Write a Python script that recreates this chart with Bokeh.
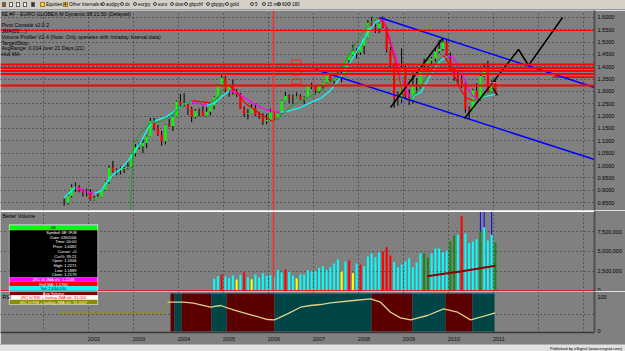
from bokeh.plotting import figure
from bokeh.models import (Range1d, FixedTicker, Grid, Span, Label, BoxAnnotation, Div,
                          ColumnDataSource, NumeralTickFormatter, CustomJSTickFormatter)
from bokeh.layouts import column
from bokeh.embed import file_html
from bokeh.resources import INLINE

# ------------------------------------------------------------------ data
CANDLE_START = (2001, 6)          # first monthly bar (June 2001)
OPEN = [0.850, 0.848, 0.876, 0.912, 0.914, 0.898, 0.891,
        0.890, 0.862, 0.867, 0.872, 0.901, 0.933, 0.991, 0.978, 0.981, 0.986, 0.989, 0.993,
        1.049, 1.074, 1.078, 1.091, 1.118, 1.180, 1.150, 1.124, 1.098, 1.165, 1.160, 1.199,
        1.259, 1.246, 1.248, 1.231, 1.197, 1.222, 1.219, 1.202, 1.218, 1.242, 1.277, 1.327,
        1.356, 1.304, 1.326, 1.297, 1.287, 1.230, 1.210, 1.212, 1.234, 1.205, 1.198, 1.179,
        1.184, 1.216, 1.192, 1.212, 1.262, 1.282, 1.278, 1.276, 1.280, 1.267, 1.275, 1.323,
        1.320, 1.302, 1.323, 1.336, 1.366, 1.345, 1.353, 1.369, 1.364, 1.427, 1.448, 1.465,
        1.459, 1.485, 1.518, 1.578, 1.561, 1.555, 1.576, 1.560, 1.468, 1.407, 1.273, 1.270,
        1.397, 1.280, 1.267, 1.324, 1.323, 1.415, 1.403, 1.425, 1.434, 1.463, 1.472, 1.500,
        1.433, 1.386, 1.363, 1.351, 1.330, 1.229, 1.223, 1.305, 1.267, 1.363, 1.393, 1.299,
        1.338]
HIGH = [0.866, 0.884, 0.924, 0.931, 0.921, 0.905, 0.906,
        0.904, 0.877, 0.886, 0.904, 0.938, 0.999, 1.019, 0.989, 0.995, 0.994, 1.014, 1.051,
        1.087, 1.094, 1.107, 1.122, 1.193, 1.193, 1.164, 1.140, 1.168, 1.189, 1.202, 1.264,
        1.290, 1.293, 1.249, 1.238, 1.229, 1.231, 1.240, 1.236, 1.243, 1.281, 1.330, 1.367,
        1.363, 1.327, 1.348, 1.310, 1.294, 1.240, 1.229, 1.249, 1.250, 1.218, 1.212, 1.209,
        1.230, 1.217, 1.217, 1.265, 1.298, 1.289, 1.288, 1.296, 1.290, 1.280, 1.326, 1.336,
        1.322, 1.326, 1.339, 1.368, 1.368, 1.355, 1.385, 1.380, 1.428, 1.450, 1.490, 1.475,
        1.489, 1.522, 1.590, 1.602, 1.576, 1.580, 1.604, 1.563, 1.480, 1.414, 1.299, 1.475,
        1.405, 1.309, 1.377, 1.355, 1.416, 1.434, 1.428, 1.440, 1.478, 1.508, 1.514, 1.512,
        1.458, 1.398, 1.379, 1.370, 1.336, 1.240, 1.311, 1.334, 1.366, 1.412, 1.424, 1.345,
        1.345]
LOW = [0.837, 0.842, 0.870, 0.893, 0.891, 0.874, 0.875,
       0.857, 0.858, 0.865, 0.870, 0.898, 0.926, 0.971, 0.961, 0.964, 0.970, 0.984, 0.990,
       1.037, 1.066, 1.050, 1.070, 1.116, 1.142, 1.120, 1.080, 1.086, 1.156, 1.139, 1.196,
       1.238, 1.239, 1.205, 1.176, 1.190, 1.199, 1.200, 1.199, 1.203, 1.228, 1.270, 1.321,
       1.297, 1.279, 1.287, 1.278, 1.229, 1.197, 1.187, 1.211, 1.200, 1.189, 1.164, 1.167,
       1.181, 1.183, 1.187, 1.208, 1.262, 1.252, 1.250, 1.273, 1.264, 1.250, 1.275, 1.310,
       1.286, 1.293, 1.307, 1.333, 1.341, 1.330, 1.352, 1.337, 1.362, 1.406, 1.444, 1.434,
       1.448, 1.452, 1.515, 1.556, 1.537, 1.536, 1.555, 1.458, 1.390, 1.233, 1.242, 1.254,
       1.271, 1.245, 1.251, 1.286, 1.312, 1.380, 1.385, 1.405, 1.421, 1.455, 1.465, 1.425,
       1.384, 1.343, 1.327, 1.314, 1.214, 1.188, 1.221, 1.266, 1.263, 1.358, 1.296, 1.295,
       1.284]
CLOSE = [0.848, 0.876, 0.912, 0.914, 0.898, 0.891, 0.890,
         0.862, 0.867, 0.872, 0.901, 0.933, 0.991, 0.978, 0.981, 0.986, 0.989, 0.993, 1.049,
         1.074, 1.078, 1.091, 1.118, 1.180, 1.150, 1.124, 1.098, 1.165, 1.160, 1.199, 1.259,
         1.246, 1.248, 1.231, 1.197, 1.222, 1.219, 1.202, 1.218, 1.242, 1.277, 1.327, 1.356,
         1.304, 1.326, 1.297, 1.287, 1.230, 1.210, 1.212, 1.234, 1.205, 1.198, 1.179, 1.184,
         1.216, 1.192, 1.212, 1.262, 1.282, 1.278, 1.276, 1.280, 1.267, 1.275, 1.323, 1.320,
         1.302, 1.323, 1.336, 1.366, 1.345, 1.353, 1.369, 1.364, 1.427, 1.448, 1.465, 1.459,
         1.485, 1.518, 1.578, 1.561, 1.555, 1.576, 1.560, 1.468, 1.407, 1.273, 1.270, 1.397,
         1.280, 1.267, 1.324, 1.323, 1.415, 1.403, 1.425, 1.434, 1.463, 1.472, 1.500, 1.433,
         1.386, 1.363, 1.351, 1.330, 1.229, 1.223, 1.305, 1.267, 1.363, 1.393, 1.299, 1.338,
         1.285]

# slow JMA line (cyan rising / magenta falling): decimal year, price
JMA_T = [2001.46, 2001.63, 2001.71, 2001.80, 2001.96, 2002.13, 2002.29, 2002.38, 2002.54, 2002.71,
         2002.88, 2003.04, 2003.17, 2003.29, 2003.38, 2003.54, 2003.71, 2003.96, 2004.13, 2004.29,
         2004.46, 2004.63, 2004.79, 2004.96, 2005.13, 2005.29, 2005.46, 2005.67, 2005.96, 2006.27,
         2006.49, 2006.71, 2006.93, 2007.16, 2007.38, 2007.60, 2007.82, 2008.04, 2008.20, 2008.38,
         2008.49, 2008.56, 2008.71, 2008.87, 2009.00, 2009.16, 2009.38, 2009.60, 2009.82, 2009.98,
         2010.11, 2010.29, 2010.44, 2010.56, 2010.67, 2010.83, 2011.04]
JMA_P = [0.870, 0.899, 0.911, 0.905, 0.893, 0.886, 0.899, 0.927, 0.962, 0.985,
         1.020, 1.061, 1.097, 1.140, 1.170, 1.185, 1.196, 1.225, 1.250, 1.259,
         1.251, 1.243, 1.252, 1.280, 1.302, 1.296, 1.275, 1.251, 1.225, 1.215,
         1.223, 1.235, 1.255, 1.272, 1.305, 1.357, 1.420, 1.486, 1.539, 1.580,
         1.592, 1.588, 1.507, 1.413, 1.324, 1.276, 1.296, 1.365, 1.426, 1.442,
         1.438, 1.380, 1.312, 1.276, 1.272, 1.280, 1.288]

# fast Hull MA (green rising / red falling)
HULL_T = [2002.93, 2003.00, 2003.16, 2003.38, 2003.60, 2003.82, 2004.00, 2004.16, 2004.31, 2004.49,
          2004.71, 2004.87, 2005.00, 2005.11, 2005.27, 2005.49, 2005.71, 2005.93, 2006.11, 2006.27,
          2006.49, 2006.71, 2006.93, 2007.16, 2007.38, 2007.60, 2007.82, 2008.04, 2008.27, 2008.44,
          2008.60, 2008.71, 2008.87, 2009.00, 2009.09, 2009.27, 2009.49, 2009.71, 2009.89, 2010.04,
          2010.22, 2010.38, 2010.56, 2010.71, 2010.87, 2011.00]
HULL_P = [0.809, 1.089, 1.134, 1.174, 1.178, 1.199, 1.231, 1.251, 1.263, 1.259,
          1.255, 1.272, 1.312, 1.324, 1.304, 1.251, 1.223, 1.195, 1.178, 1.203,
          1.239, 1.263, 1.280, 1.304, 1.336, 1.385, 1.458, 1.527, 1.580, 1.600,
          1.567, 1.494, 1.385, 1.276, 1.263, 1.292, 1.353, 1.413, 1.446, 1.405,
          1.324, 1.276, 1.263, 1.272, 1.292, 1.304]

# drawn tools
LEVELS = [1.5472, 1.4094, 1.3952, 1.3830, 1.3709, 1.3243]
LEVEL_SHORT = 1.3580
LEVEL_SHORT_FROM = 2012.31
CHANNEL_UPPER_T = [2008.467, 2013.244]
CHANNEL_UPPER_P = [1.5999, 1.3162]
CHANNEL_LOWER_T = [2007.044, 2013.244]
CHANNEL_LOWER_P = [1.3891, 1.0243]
TREND_A_T = [2008.711, 2009.867]
TREND_A_P = [1.2351, 1.5148]
TREND_B_T = [2010.356, 2011.556, 2011.778, 2012.533]
TREND_B_P = [1.1905, 1.4702, 1.4053, 1.5999]
TREND_C_T = [2010.978, 2011.089]
TREND_C_P = [1.316, 1.284]
TARGET_T = [2010.93, 2011.20]
TARGET_P = 1.336
PIVOT_P = [1.4175, 1.3770, 1.3405]
PIVOT_T = 2006.62
CURSOR_T = 2006.111

PRICE_TICKS = [0.85, 0.90, 0.95, 1.00, 1.05, 1.10, 1.15, 1.20, 1.25, 1.30,
               1.35, 1.40, 1.45, 1.50, 1.55, 1.60]
PRICE_FLAGS = ["1.3711", "1.3158", "1.2850"]
PRICE_FLAG_VALUES = [1.3711, 1.3158, 1.2850]

# volume (millions of contracts)
VOLUME_START = (2004, 10)
VOLUME = [1.50, 1.85, 2.05,
          1.80, 1.60, 1.95, 1.40, 2.00, 2.35, 1.70, 1.45, 2.05, 1.65, 2.20, 1.90,
          2.00, 1.75, 2.634, 2.30, 2.70, 2.40, 1.90, 1.55, 2.10, 2.05, 2.60, 2.45,
          2.50, 2.90, 3.10, 2.60, 2.99, 3.46, 3.97, 2.44, 3.72, 3.85, 2.22, 3.46,
          3.33, 3.12, 4.36, 4.74, 4.27, 4.87, 5.00, 5.55, 4.49, 3.63, 2.99, 3.33,
          3.72, 4.14, 2.99, 3.59, 4.78, 4.78, 4.23, 4.74, 5.38, 5.38, 4.91, 5.13,
          6.32, 7.05, 7.14, 9.53, 7.31, 6.06, 6.28, 6.58, 7.53, 8.12, 6.41, 7.14,
          6.148882]
VOLUME_KIND = ["c", "c", "r",
               "c", "c", "c", "y", "c", "r", "c", "y", "c", "c", "c", "c",
               "c", "c", "c", "c", "r", "c", "c", "y", "c", "c", "c", "c",
               "c", "c", "c", "c", "c", "c", "c", "y", "c", "r", "y", "c",
               "r", "c", "c", "c", "c", "c", "r", "r", "r", "c", "c", "c",
               "c", "c", "c", "c", "c", "g", "g", "c", "c", "c", "c", "c",
               "g", "g", "c", "r", "c", "c", "c", "c", "g", "c", "c", "c",
               "g"]
SPIKE_MONTHS = [(2010, 9), (2010, 10), (2010, 12)]
SPIKE_VALUE = 10.5
VOL_MA_T = [2009.53, 2009.90, 2010.27, 2010.64, 2011.04]
VOL_MA = [1.83, 2.14, 2.44, 2.78, 3.1685]
VOL_TICKS = [0, 2.5, 5, 7.5]
VOL_TICK_LABELS = ["0", "2,500,000", "5,000,000", "7,500,000"]
VOL_FLAGS = ["6,148,882", "3,168,517.37"]

# RSI panel
RSI_FLAT_T = [2001.333, 2003.667, 2003.756]
RSI_FLAT = [52.9, 52.9, 85.3]
RSI_T = [2003.756, 2004.111, 2004.333, 2004.711, 2004.933, 2005.222, 2005.667, 2005.978, 2006.133,
         2006.422, 2006.711, 2006.933, 2007.156, 2007.378, 2007.889, 2008.267, 2008.489, 2008.711,
         2008.933, 2009.156, 2009.533, 2009.889, 2010.2, 2010.489, 2010.711, 2011.04]
RSI = [85.3, 85.3, 82.4, 70.6, 75.6, 62.9, 46.2, 34.4, 33.5,
       51.2, 70.6, 75.6, 78.5, 83.5, 90.3, 95.3, 85.3, 55.9,
       39.4, 33.5, 46.2, 65.9, 55.9, 33.5, 41.2, 53.57]
RSI_ZONE_START = [2003.822, 2003.911, 2004.067, 2004.733, 2005.067, 2006.133, 2008.289, 2009.2, 2009.933, 2010.533]
RSI_ZONE_END = [2003.911, 2004.067, 2004.733, 2005.067, 2006.133, 2008.289, 2009.2, 2009.933, 2010.533, 2011.022]
RSI_ZONE_STATE = ["down", "up", "down", "up", "down", "up", "down", "up", "down", "up"]
RSI_FLAG = "53.5724"

YEAR_GRID = list(range(2001, 2014))
YEAR_LABELS = list(range(2002, 2012))

TITLE_LINES = ["6E #F - EURO GLOBEX,M Dynamic 08:21:50 (Delayed)",
               "Pivot Console v2.0.2",
               "JMA(20,...)",
               "Volume Profiler V2.4 (Note: Only operates with Intraday Interval data)",
               "Target/Stop",
               "AvgRange: 0.014 over 21 Days,(21)",
               "Hull MA"]
DATA_WINDOW_ROWS = ["Symbol: 6E #F,M", "Date: 03/01/06", "Time: 00:00", "Price: 1.6482",
                    "Cursor: +5", "Cur%: 39.21", "Open: 1.1906", "High: 1.2271",
                    "Low: 1.1889", "Close: 1.2179"]
DATA_WINDOW_STUDIES = ["JRC hl JMA sfs: 1.2248", "Hull MA: 1.1760", "Vol: 2,634,030", "Avg Volume",
                       "JRC hl RSI + trailing JMA sfs: 31.000", "JRC hl RSI + trailing JMA sfs: 31.0007"]
TOOLBAR_ITEMS = ["audjpy", "dx", "eurjpy", "euro", "dow", "gbpchf", "gbpjpy", "gold", "5", "15 min", "60", "180"]
STATUS_TEXT = "Published by eSignal (www.esignal.com)"

# ------------------------------------------------------------------ style
BG = "#808080"
GRID = "#2e2e2e"
FONT = "Liberation Sans"
UP, DOWN = "#00ff00", "#ff0000"
VOL_COLORS = {"c": "#00ffff", "r": "#ff0000", "y": "#ffff00", "g": "#138a13"}
AXIS_FONT_SIZE = "5.5px"
DIV_HOST = {"overflow": "hidden", "font-size": "0px", "line-height": "0px", "display": "block"}


def month_centre(start, i):
    y0, m0 = start
    k = m0 - 1 + i
    return y0 + k // 12 + (k % 12 + 0.5) / 12.0


X_RANGE = Range1d(2000.044, 2013.244)


def make_panel(height, y0, y1, bottom=0):
    f = figure(width=625, height=height, x_range=X_RANGE, y_range=Range1d(y0, y1),
               output_backend="svg", toolbar_location=None,
               x_axis_location=("below" if bottom else None), y_axis_location="right",
               min_border_left=0, min_border_right=31, min_border_top=0,
               min_border_bottom=bottom, background_fill_color=BG,
               border_fill_color=BG, outline_line_color=None)
    f.grid.visible = False
    ax = f.yaxis[0]
    ax.major_tick_line_color = None
    ax.minor_tick_line_color = None
    ax.major_tick_out = 0
    ax.major_tick_in = 0
    ax.axis_line_color = "#505050"
    ax.axis_line_width = 2
    ax.major_label_text_font = FONT
    ax.major_label_text_font_size = AXIS_FONT_SIZE
    ax.major_label_text_color = "#000000"
    ax.major_label_standoff = 3
    f.add_layout(Grid(dimension=0, ticker=FixedTicker(ticks=YEAR_GRID), grid_line_color=GRID,
                      grid_line_dash="1 3", grid_line_width=1))
    return f


def label(f, x, y, s, size="5.2px", color="#000000", align="left", **kw):
    f.add_layout(Label(x=x, y=y, x_units="screen", y_units="screen", text=s, text_font=FONT,
                       text_font_size=size, text_color=color, text_align=align,
                       text_baseline="middle", **kw))


def box(f, left, right, top, bottom, color):
    f.add_layout(BoxAnnotation(left=left, right=right, top=top, bottom=bottom,
                               left_units="screen", right_units="screen",
                               top_units="screen", bottom_units="screen",
                               fill_color=color, fill_alpha=1.0, line_color=None))


def coloured_segments(f, ts, ps, up, down, width):
    x0, y0, x1, y1, col = [], [], [], [], []
    for i in range(len(ts) - 1):
        x0.append(ts[i]); y0.append(ps[i]); x1.append(ts[i + 1]); y1.append(ps[i + 1])
        col.append(up if ps[i + 1] >= ps[i] else down)
    f.segment(x0=x0, y0=y0, x1=x1, y1=y1, line_color=col, line_width=width)


# ------------------------------------------------------------------ price panel (page y 10-210)
price = make_panel(200, 0.8176, 1.6283)
price.yaxis[0].ticker = FixedTicker(ticks=PRICE_TICKS)
price.yaxis[0].formatter = NumeralTickFormatter(format="0.0000")
price.add_layout(Grid(dimension=1, ticker=FixedTicker(ticks=PRICE_TICKS), grid_line_color=GRID,
                      grid_line_dash="1 3", grid_line_width=1))

for i, lv in enumerate(LEVELS):
    price.add_layout(Span(location=lv, dimension="width", line_color="#ff0000",
                          line_width=(1 if i == 0 else 1.8)))
price.segment(x0=[LEVEL_SHORT_FROM], y0=[LEVEL_SHORT], x1=[X_RANGE.end], y1=[LEVEL_SHORT],
              line_color="#ff0000", line_width=1.8)
price.add_layout(Span(location=CURSOR_T, dimension="height", line_color="#ff2a2a", line_width=1.4))

# pivot console boxes
price.rect(x=[PIVOT_T] * len(PIVOT_P), y=PIVOT_P, width=0.2, height=0.02,
           fill_color=None, line_color="#ff2020", line_width=1)

n = len(CLOSE)
T = [month_centre(CANDLE_START, i) for i in range(n)]
src = ColumnDataSource(dict(
    t=T, h=HIGH, l=LOW,
    top=[max(o, c) for o, c in zip(OPEN, CLOSE)],
    bot=[min(o, c) for o, c in zip(OPEN, CLOSE)],
    col=[UP if c >= o else DOWN for o, c in zip(OPEN, CLOSE)]))
price.segment(x0="t", y0="h", x1="t", y1="l", source=src, line_color="#000000", line_width=1)
price.vbar(x="t", width=0.05, top="top", bottom="bot", source=src, fill_color="col", line_color=None)

coloured_segments(price, JMA_T, JMA_P, "#00ffff", "#ff00ff", 1.3)
coloured_segments(price, HULL_T, HULL_P, "#2a9a2a", "#ff0000", 1.15)

price.line(CHANNEL_UPPER_T, CHANNEL_UPPER_P, line_color="#0000ff", line_width=1.5)
price.line(CHANNEL_LOWER_T, CHANNEL_LOWER_P, line_color="#0000ff", line_width=1.5)
price.line(TREND_A_T, TREND_A_P, line_color="#000000", line_width=1.5)
price.line(TREND_B_T, TREND_B_P, line_color="#000000", line_width=1.5)
price.line(TREND_C_T, TREND_C_P, line_color="#000000", line_width=1.2)
price.line(TARGET_T, [TARGET_P, TARGET_P], line_color="#c07070", line_width=1.2)

title_y = [13.5, 24.5, 30.5, 36.5, 42, 47.5, 53]
for s, yy in zip(TITLE_LINES, title_y):
    label(price, 1, 210 - yy, s)

flag_styles = [("#00ff00", "#003000"), ("#007a00", "#c8ffc8"), ("#ffffff", "#000000")]
for s, v, (bg, fg) in zip(PRICE_FLAGS, PRICE_FLAG_VALUES, flag_styles):
    price.add_layout(Label(x=596, y=v, x_units="screen", y_units="data", text=s, text_font=FONT,
                           text_font_size=AXIS_FONT_SIZE, text_color=fg, text_baseline="middle",
                           background_fill_color=bg))

# ------------------------------------------------------------------ volume panel (page y 210-291)
vol = make_panel(81, -0.128, 10.256)
vol.yaxis[0].ticker = FixedTicker(ticks=VOL_TICKS)
vol.yaxis[0].major_label_overrides = dict(zip(VOL_TICKS, VOL_TICK_LABELS))
vol.add_layout(Grid(dimension=1, ticker=FixedTicker(ticks=VOL_TICKS[1:]), grid_line_color=GRID,
                    grid_line_dash="1 3", grid_line_width=1))
vol.add_layout(Span(location=CURSOR_T, dimension="height", line_color="#ff2a2a", line_width=1.4))

spike_t = [y + (m - 0.5) / 12.0 for y, m in SPIKE_MONTHS]
vol.vbar(x=spike_t, width=0.022, top=[SPIKE_VALUE] * len(spike_t), bottom=0,
         fill_color="#0000ff", line_color=None)
VT = [month_centre(VOLUME_START, i) for i in range(len(VOLUME))]
vol.vbar(x=VT, width=0.045, top=VOLUME, bottom=0,
         fill_color=[VOL_COLORS[k] for k in VOLUME_KIND], line_color=None)
vol.line(VOL_MA_T, VOL_MA, line_color="#8b0000", line_width=2)
vol.add_layout(Span(location=10.2, dimension="width", line_color="#ffffff", line_width=2))
vol.add_layout(Span(location=-0.06, dimension="width", line_color="#ff0000", line_width=1.6))

label(vol, 2, 291 - 215, "Better Volume", size="5.2px")
vol_flag_styles = [("#00a800", "#002000", 596, AXIS_FONT_SIZE), ("#8b0000", "#ffd0d0", 595, "4.6px")]
for s, v, (bg, fg, fx, fs) in zip(VOL_FLAGS, [VOLUME[-1], VOL_MA[-1]], vol_flag_styles):
    vol.add_layout(Label(x=fx, y=v, x_units="screen", y_units="data", text=s, text_font=FONT,
                         text_font_size=fs, text_color=fg, text_baseline="middle",
                         background_fill_color=bg))

# data window (page coords: x 9-97, y 224.7-303.7), split between volume and RSI panels
DW_L, DW_R = 9, 97
box(vol, DW_L - 0.6, DW_R + 0.6, 291 - 224.1, 0, "#f0f0f0")
box(vol, DW_L, DW_R, 291 - 224.7, 291 - 229.7, "#00ff00")
box(vol, DW_L, DW_R, 291 - 229.7, 291 - 276.7, "#000000")
study_rows = [(276.7, 281.3, "#ff00ff", "#ffffff"), (281.3, 285.7, "#ff0000", "#ffffff"),
              (285.7, 290.3, "#00ffff", "#000000"), (290.3, 294.7, "#800000", "#ffffff"),
              (294.7, 299.3, "#ffffff", "#ff0000"), (299.3, 303.7, "#8c8c00", "#ffffb0")]
label(vol, 53, 291 - 227.2, "6E", size="4.2px", align="center")
for k, s in enumerate(DATA_WINDOW_ROWS):
    label(vol, 76, 291 - (232.05 + 4.7 * k), s, size="4px", color="#ffffff", align="right")

rsi = make_panel(53, -3.8, 116.8, bottom=12)
box(rsi, DW_L - 0.6, DW_R + 0.6, 41, 332 - 304.3, "#f0f0f0")
for (y_top, y_bot, bg, fg), s in zip(study_rows, DATA_WINDOW_STUDIES):
    if y_top < 291:
        box(vol, DW_L, DW_R, 291 - y_top, max(291 - y_bot, 0), bg)
    if y_bot > 291:
        box(rsi, DW_L, DW_R, min(332 - y_top, 41), 332 - y_bot, bg)
    yc = (y_top + y_bot) / 2
    if yc < 291:
        label(vol, 53, 291 - yc, s, size="4px", color=fg, align="center")
    else:
        label(rsi, 53, 332 - yc, s, size="4px", color=fg, align="center")

# ------------------------------------------------------------------ RSI panel (page y 291-332 + axis)
rsi.yaxis[0].ticker = FixedTicker(ticks=[0, 100])
rsi.add_layout(Grid(dimension=1, ticker=FixedTicker(ticks=[50]), grid_line_color=GRID,
                    grid_line_dash="1 3", grid_line_width=1))
zone_col = {"down": "#5a0000", "up": "#004545"}
rsi.quad(left=RSI_ZONE_START, right=RSI_ZONE_END, bottom=-1, top=111,
         fill_color=[zone_col[s] for s in RSI_ZONE_STATE], line_color=None)
rsi.line(RSI_FLAT_T, RSI_FLAT, line_color="#8f8a22", line_width=1.2)
rsi.line(RSI_T, RSI, line_color="#ddd28c", line_width=1.3)
label(rsi, 2, 332 - 296.5, "RSI", size="5.2px")
rsi.add_layout(Label(x=596, y=RSI[-1], x_units="screen", y_units="data", text=RSI_FLAG,
                     text_font=FONT, text_font_size=AXIS_FONT_SIZE, text_color="#ffffa0",
                     text_baseline="middle", background_fill_color="#9a9a1a"))

xa = rsi.xaxis[0]
xa.ticker = FixedTicker(ticks=[y + 0.12 for y in YEAR_LABELS])
xa.formatter = CustomJSTickFormatter(code="return String(Math.floor(tick));")
xa.major_tick_line_color = None
xa.minor_tick_line_color = None
xa.major_tick_out = 0
xa.major_tick_in = 0
xa.axis_line_color = "#3a3a3a"
xa.axis_line_width = 1.5
xa.major_label_text_font = FONT
xa.major_label_text_font_size = AXIS_FONT_SIZE
xa.major_label_text_color = "#101010"
xa.major_label_standoff = 4

# ------------------------------------------------------------------ toolbar and status bar
tb = ['<div style="display:block;position:relative;width:625px;height:10px;background:#d4d0c8;overflow:hidden;'
      'font-family:\'Liberation Sans\';font-size:4.6px;line-height:6px;color:#000;'
      'border-bottom:1px solid #9a9a9a;box-sizing:border-box">']
for x, c in [(2, "#b84a2a"), (9, "#f4f4f4"), (16, "#f4f4f4"), (23, "#f4f4f4"), (31, "#303030")]:
    tb.append(f'<span style="position:absolute;left:{x}px;top:2px;width:4px;height:5px;'
              f'background:{c};border:1px solid #606060;box-sizing:border-box"></span>')
for x in (40, 63):
    tb.append(f'<span style="position:absolute;left:{x}px;top:2px;width:5px;height:5px;'
              f'background:#f0d050;border:1px solid #a08020;box-sizing:border-box"></span>')
tb.append('<span style="position:absolute;left:46px;top:2px">Equities &#9662;</span>')
tb.append('<span style="position:absolute;left:69px;top:2px">Other Intervals &#9662;</span>')
item_x = [106, 125, 138, 158, 175, 189, 211, 230, 255, 267, 282, 292]
for x, s in zip(item_x, TOOLBAR_ITEMS):
    tb.append(f'<span style="position:absolute;left:{x - 5}px;top:2px;width:4px;height:4px;'
              f'border:1px solid #404040;border-radius:50%;box-sizing:border-box"></span>')
    tb.append(f'<span style="position:absolute;left:{x}px;top:2px">{s}</span>')
tb.append('</div>')
toolbar = Div(text="".join(tb), width=625, height=10, margin=(0, 0, 0, 0), styles=DIV_HOST)

status = Div(text='<div style="display:block;position:relative;width:625px;height:7px;background:#e2e2e2;'
                  'overflow:hidden;font-family:\'Liberation Sans\';font-size:4px;line-height:5px;color:#000;'
                  'border-top:1px solid #b0b0b0;box-sizing:border-box">'
                  f'<span style="position:absolute;right:3px;top:0.5px">{STATUS_TEXT}</span></div>',
             width=625, height=7, margin=(0, 0, 0, 0), styles=DIV_HOST)

layout = column(toolbar, price, vol, rsi, status, spacing=0)
open("out.html", "w").write(file_html(layout, INLINE))
